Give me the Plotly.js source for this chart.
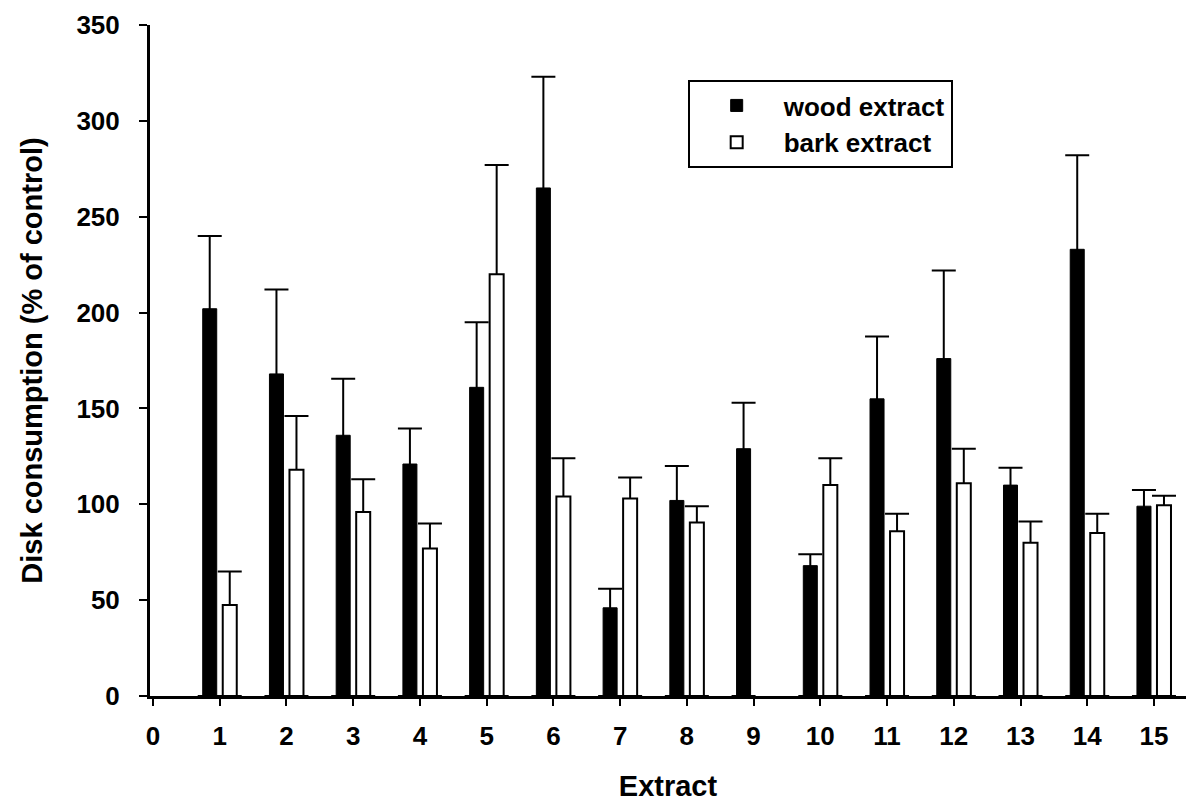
<!DOCTYPE html>
<html>
<head>
<meta charset="utf-8">
<script src="https://cdn.plot.ly/plotly-3.0.1.min.js"></script>
<style>html,body{margin:0;padding:0;background:#fff;}#chart{width:1186px;height:804px;}</style>
</head>
<body>
<div id="chart"></div>
<script>
// Extract numbers (x categories)
const extracts = [1, 2, 3, 4, 5, 6, 7, 8, 9, 10, 11, 12, 13, 14, 15];
// Wood extract: mean disk consumption (% of control) and upper error
const woodValues = [202, 168, 136, 121, 161, 265, 46, 102, 129, 68, 155, 176, 110, 233, 99];
const woodErrors = [38, 44, 29.5, 18.5, 34, 58, 10, 18, 24, 6, 32.5, 46, 9, 49, 8.5];
// Bark extract: mean disk consumption (% of control) and upper error (none for extract 9)
const barkValues = [47.5, 118, 96, 77, 220, 104, 103, 90.5, null, 110, 86, 111, 80, 85, 99.5];
const barkErrors = [17.5, 28, 17, 13, 57, 20, 11, 8.5, null, 14, 9, 18, 11, 10, 5];
// Axis ticks
const xTicks = [0, 1, 2, 3, 4, 5, 6, 7, 8, 9, 10, 11, 12, 13, 14, 15];
const yTicks = [0, 50, 100, 150, 200, 250, 300, 350];

const FONT = '"Liberation Sans", Arial, sans-serif';

// One-sided (upper) error bars: the lower part runs down to the base, hidden behind the bars
function errTrace(values, errors, group) {
  return {
    type: 'bar', x: extracts, y: values, offsetgroup: group,
    marker: {color: 'rgba(0,0,0,0)', line: {width: 0}},
    showlegend: false, hoverinfo: 'skip',
    error_y: {
      type: 'data', symmetric: false,
      array: errors,
      arrayminus: values,
      color: '#000', thickness: 2, width: 12
    }
  };
}

const traces = [
  errTrace(woodValues, woodErrors, 'w'),
  errTrace(barkValues, barkErrors, 'b'),
  {
    type: 'bar', name: 'wood extract', x: extracts, y: woodValues, offsetgroup: 'w',
    marker: {color: '#000', line: {color: '#000', width: 1}}
  },
  {
    type: 'bar', name: 'bark extract', x: extracts, y: barkValues, offsetgroup: 'b',
    marker: {color: '#fff', line: {color: '#000', width: 2}}
  }
];

const layout = {
  width: 1186, height: 804,
  margin: {l: 150, r: 0, t: 25, b: 108},
  paper_bgcolor: '#fff', plot_bgcolor: '#fff',
  font: {family: FONT, color: '#000', weight: 'bold'},
  barmode: 'group', bargap: 0.4, bargroupgap: 0.3,
  showlegend: true,
  legend: {
    x: 0.519, y: 0.918, xanchor: 'left', yanchor: 'top',
    bgcolor: '#fff', bordercolor: '#000', borderwidth: 2,
    font: {family: FONT, size: 26, weight: 'bold', color: '#000'},
    itemwidth: 84, traceorder: 'normal',
    entrywidth: 282, entrywidthmode: 'pixels'
  },
  xaxis: {
    range: [-0.045, 15.48],
    tickmode: 'array', tickvals: xTicks, ticktext: xTicks.map(String),
    ticks: 'outside', ticklen: 7, tickwidth: 2, tickcolor: '#000',
    ticklabelstandoff: 8,
    showline: true, linewidth: 3, linecolor: '#000',
    showgrid: false, zeroline: false,
    tickfont: {family: FONT, size: 26, weight: 'bold'},
    title: {text: 'Extract', font: {family: FONT, size: 29, weight: 'bold'}, standoff: 26}
  },
  yaxis: {
    range: [0, 350],
    tickmode: 'array', tickvals: yTicks, ticktext: yTicks.map(String),
    ticks: 'outside', ticklen: 8, tickwidth: 2, tickcolor: '#000',
    ticklabelstandoff: 14,
    showline: true, linewidth: 3, linecolor: '#000',
    showgrid: false, zeroline: false,
    tickfont: {family: FONT, size: 26, weight: 'bold'},
    title: {text: 'Disk consumption (% of control)', font: {family: FONT, size: 29, weight: 'bold'}, standoff: 26}
  }
};

Plotly.newPlot('chart', traces, layout, {displayModeBar: false, staticPlot: true});
</script>
</body>
</html>
